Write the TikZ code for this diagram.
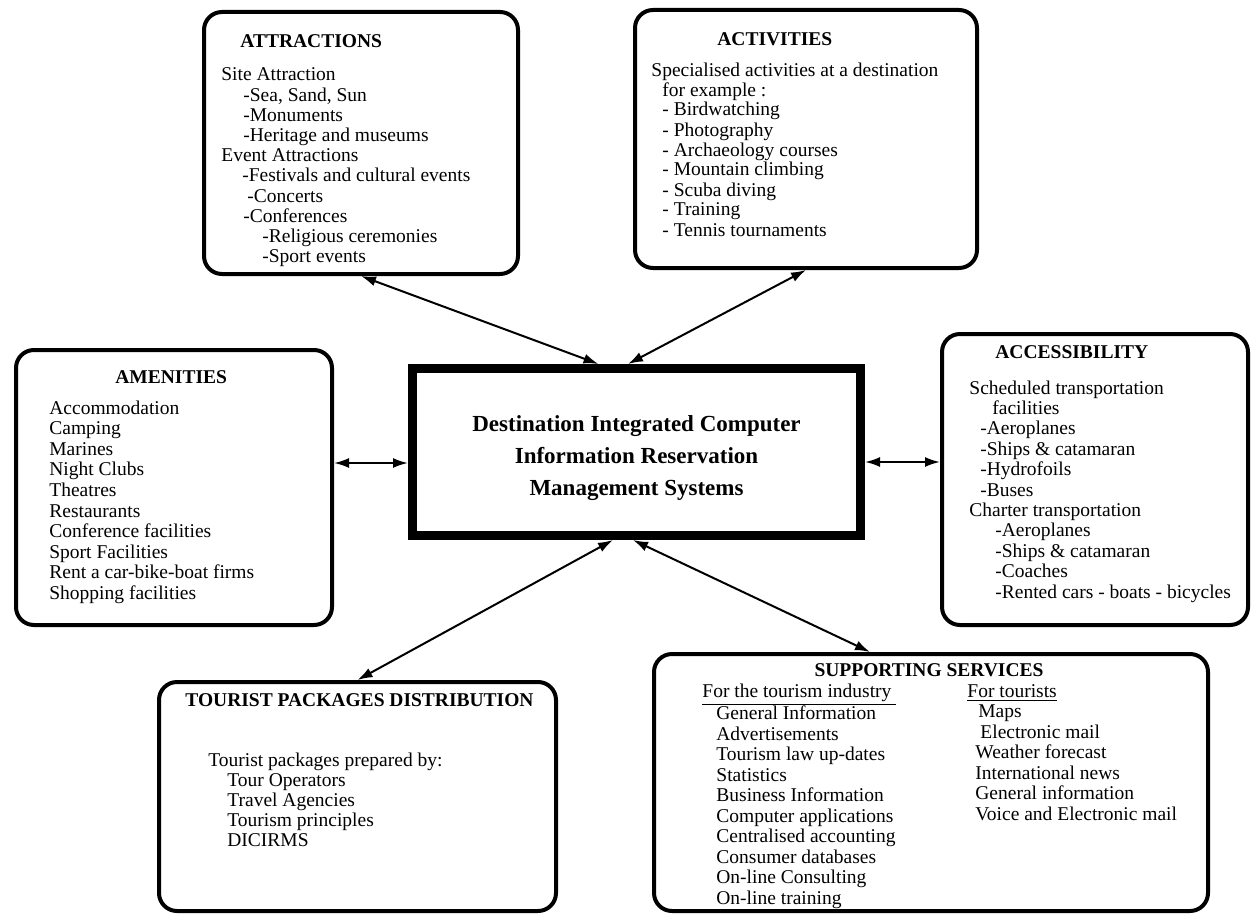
\documentclass[tikz,border=0pt]{standalone}
\usepackage{fontspec}
\setmainfont{Liberation Serif}
\usetikzlibrary{arrows.meta}
\newcommand{\boxlines}[1]{\begin{tabular}[t]{@{}l@{}}#1\end{tabular}}
\begin{document}
\begin{tikzpicture}[x=0.5pt,y=-0.5pt,
  frame/.style={draw, line width=2pt, rounded corners=9pt, inner sep=0pt, fill=white},
  mainbox/.style={draw, line width=4.5pt, inner sep=0pt, fill=white},
  body/.style={anchor=base west, inner sep=0pt},
  ttl/.style={anchor=base west, inner sep=0pt, font=\fontsize{9.75}{10}\selectfont\bfseries},
  link/.style={{Latex[length=7.5pt,width=5pt]}-{Latex[length=7.5pt,width=5pt]}, line width=1pt}]
\useasboundingbox (0,0) rectangle (1252,920);

% frames
\node[frame, minimum width=157pt, minimum height=131pt] (attr) at (361,143) {};
\node[frame, minimum width=171pt, minimum height=129pt] (act) at (806,139) {};
\node[frame, minimum width=158pt, minimum height=137.5pt] (amen) at (174,487.5) {};
\node[frame, minimum width=153pt, minimum height=145.5pt] (acc) at (1095,479.5) {};
\node[frame, minimum width=198.5pt, minimum height=114.5pt] (tour) at (357.5,796.5) {};
\node[frame, minimum width=277pt, minimum height=128.5pt] (supp) at (931,782.5) {};
\node[mainbox, minimum width=224pt, minimum height=83.5pt] (cent) at (636.5,452) {};

% centre text
\node[align=center, inner sep=0pt, font=\fontsize{11.5}{16}\selectfont\bfseries] (centT) at (636.5,458)
  {Destination Integrated Computer\\Information Reservation\\Management Systems};

% ATTRACTIONS
\node[ttl] (attrH) at (240,48) {ATTRACTIONS};
\node[body, font=\fontsize{9.75}{10.1}\selectfont] (attrT) at (221,81) {\boxlines{%
Site Attraction\\
\hspace*{11pt}-Sea, Sand, Sun\\
\hspace*{11pt}-Monuments\\
\hspace*{11pt}-Heritage and museums\\
Event Attractions\\
\hspace*{10.5pt}-Festivals and cultural events\\
\hspace*{13pt}-Concerts\\
\hspace*{11pt}-Conferences\\
\hspace*{20.5pt}-Religious ceremonies\\
\hspace*{20.5pt}-Sport events}};

% ACTIVITIES
\node[ttl] (actH) at (717,46) {ACTIVITIES};
\node[body, font=\fontsize{9.75}{10}\selectfont] (actT) at (651,76) {\boxlines{%
Specialised activities at a destination\\
\hspace*{5.5pt}for example :\\
\hspace*{5.5pt}- Birdwatching\\
\hspace*{5.5pt}- Photography\\
\hspace*{5.5pt}- Archaeology courses\\
\hspace*{5.5pt}- Mountain climbing\\
\hspace*{5.5pt}- Scuba diving\\
\hspace*{5.5pt}- Training\\
\hspace*{5.5pt}- Tennis tournaments}};

% AMENITIES
\node[ttl] (amenH) at (115,383) {AMENITIES};
\node[body, font=\fontsize{9.75}{10.3}\selectfont] (amenT) at (49,414) {\boxlines{%
Accommodation\\
Camping\\
Marines\\
Night Clubs\\
Theatres\\
Restaurants\\
Conference facilities\\
Sport Facilities\\
Rent a car-bike-boat firms\\
Shopping facilities}};

% ACCESSIBILITY
\node[ttl] (accH) at (995,358) {ACCESSIBILITY};
\node[body, font=\fontsize{9.75}{10.2}\selectfont] (accT) at (969,394) {\boxlines{%
Scheduled transportation\\
\hspace*{11.5pt}facilities\\
\hspace*{5.5pt}-Aeroplanes\\
\hspace*{5.5pt}-Ships \& catamaran\\
\hspace*{5.5pt}-Hydrofoils\\
\hspace*{5.5pt}-Buses\\
Charter transportation\\
\hspace*{13pt}-Aeroplanes\\
\hspace*{13pt}-Ships \& catamaran\\
\hspace*{13pt}-Coaches\\
\hspace*{13pt}-Rented cars - boats - bicycles}};

% TOURIST PACKAGES DISTRIBUTION
\node[ttl] (tourH) at (185,706) {TOURIST PACKAGES DISTRIBUTION};
\node[body, font=\fontsize{9.75}{10}\selectfont] (tourT) at (208,766) {\boxlines{%
Tourist packages prepared by:\\
\hspace*{9.5pt}Tour Operators\\
\hspace*{9.5pt}Travel Agencies\\
\hspace*{9.5pt}Tourism principles\\
\hspace*{9.5pt}DICIRMS}};

% SUPPORTING SERVICES
\node[anchor=base, inner sep=0pt, font=\fontsize{9.75}{10}\selectfont\bfseries] (suppH) at (929,676) {SUPPORTING SERVICES};
\node[body, font=\fontsize{9.75}{10.25}\selectfont] (suppL) at (702,697) {\boxlines{%
\underline{For the tourism industry\ }\\
\hspace*{7pt}General Information\\
\hspace*{7pt}Advertisements\\
\hspace*{7pt}Tourism law up-dates\\
\hspace*{7pt}Statistics\\
\hspace*{7pt}Business Information\\
\hspace*{7pt}Computer applications\\
\hspace*{7pt}Centralised accounting\\
\hspace*{7pt}Consumer databases\\
\hspace*{7pt}On-line Consulting\\
\hspace*{7pt}On-line training}};
\node[body, font=\fontsize{9.75}{10.25}\selectfont] (suppR) at (967,697) {\boxlines{%
\underline{For tourists}\\
\hspace*{5.5pt}Maps\\
\hspace*{6.5pt}Electronic mail\\
\hspace*{4pt}Weather forecast\\
\hspace*{4pt}International news\\
\hspace*{4pt}General information\\
\hspace*{4pt}Voice and Electronic mail}};

% connectors
\draw[link] (attr.south) -- ([xshift=-19pt]cent.north);
\draw[link] (act.south) -- ([xshift=-4.25pt]cent.north);
\draw[link] ([yshift=-5.5pt]cent.west) -- ([yshift=-5.5pt]cent.west -| amen.east);
\draw[link] ([yshift=-5pt]cent.east) -- ([yshift=-5pt]cent.east -| acc.west);
\draw[link] (tour.north) -- ([xshift=-11.75pt]cent.south);
\draw[link] ([xshift=-30.5pt]supp.north) -- ([xshift=-1.75pt]cent.south);
\end{tikzpicture}
\end{document}
